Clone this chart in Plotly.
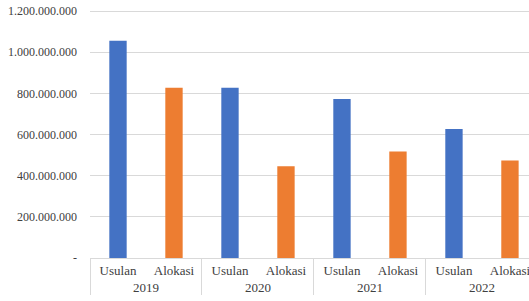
import plotly.graph_objects as go

years = ["2019", "2019", "2020", "2020", "2021", "2021", "2022", "2022"]
kinds = ["Usulan", "Alokasi"] * 4
values = [1055000000, 827000000, 827000000, 446000000,
          773000000, 518000000, 627000000, 474000000]
kind_colors = {"Usulan": "#4472C4", "Alokasi": "#ED7D31"}

tick_vals = [0, 200000000, 400000000, 600000000, 800000000, 1000000000, 1200000000]
tick_text = ["-", "200.000.000", "400.000.000", "600.000.000",
             "800.000.000", "1.000.000.000", "1.200.000.000"]

font_family = "Liberation Serif"
text_color = "#404040"
grid_color = "#D9D9D9"

fig = go.Figure(
    go.Bar(
        x=[years, kinds],
        y=values,
        marker=dict(color=[kind_colors[k] for k in kinds], line=dict(width=0)),
        width=0.31,
        showlegend=False,
        hoverinfo="skip",
    )
)

fig.update_layout(
    width=529,
    height=301,
    margin=dict(l=90, r=0, t=10, b=43, autoexpand=False),
    paper_bgcolor="white",
    plot_bgcolor="white",
    font=dict(family=font_family, size=12, color=text_color),
)

fig.update_xaxes(
    type="multicategory",
    range=[-0.5, 7.34],
    automargin=False,
    showline=True,
    linecolor=grid_color,
    linewidth=1,
    showdividers=True,
    dividercolor=grid_color,
    dividerwidth=1,
    ticks="",
    showgrid=False,
    tickfont=dict(family=font_family, size=13, color=text_color),
)

fig.update_yaxes(
    range=[0, 1205000000],
    automargin=False,
    tickvals=tick_vals,
    ticktext=tick_text,
    showgrid=True,
    gridcolor=grid_color,
    gridwidth=1,
    zeroline=False,
    showline=False,
    ticks="",
    ticklabelstandoff=12,
    tickfont=dict(family=font_family, size=12, color=text_color),
)

# remove the default page margin so the figure sits at the window's top-left
fig.write_html(
    "out.html",
    config={"displayModeBar": False, "staticPlot": True},
    post_script="document.body.style.margin='0';document.body.style.overflow='hidden';",
)
